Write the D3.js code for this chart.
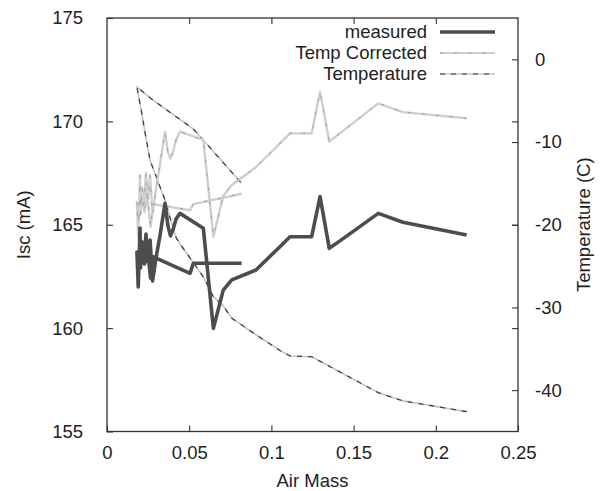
<!DOCTYPE html>
<html>
<head>
<meta charset="utf-8">
<script src="https://cdn.jsdelivr.net/npm/d3@7"></script>
<style>
  html, body { margin: 0; padding: 0; background: #fff; }
  svg { display: block; }
  text { font-family: "Liberation Sans", Arial, sans-serif; fill: #222; }
</style>
</head>
<body>
<svg id="chart" width="602" height="491"></svg>
<script>
// ---- data ----
const airMass = [0.2188, 0.1800, 0.1650, 0.1417, 0.1352, 0.1296, 0.1245, 0.1113, 0.1052, 0.0906,
  0.0759, 0.0707, 0.0647, 0.0586, 0.0444,
  0.0420, 0.0401, 0.0386, 0.0371, 0.0353, 0.0322, 0.0298, 0.0277, 0.0262, 0.0249,
  0.0237, 0.0225, 0.0213, 0.0204, 0.0201, 0.0190, 0.0182,
  0.0195, 0.0210, 0.0228, 0.0243, 0.0265, 0.0282, 0.0505, 0.0525, 0.0819];

const measured = [164.50, 165.12, 165.55, 164.22, 163.86, 166.36, 164.42, 164.42, 163.94, 162.81,
  162.33, 161.84, 159.99, 164.83, 165.55,
  165.28, 164.75, 164.46, 164.94, 166.04, 164.46, 163.39, 162.28, 164.26, 163.20,
  164.55, 163.20, 164.17, 162.91, 164.84, 161.99, 163.68,
  163.00, 163.97, 163.10, 164.07, 162.42, 163.45, 162.65, 163.14, 163.14];

const tempCorrected = [170.15, 170.45, 170.87, 169.42, 169.02, 171.44, 169.42, 169.42, 168.94, 167.78,
  166.92, 166.39, 164.42, 169.10, 169.50,
  169.1, 168.5, 168.2, 168.5, 169.5, 167.9, 166.7, 165.5, 167.4, 166.2,
  167.5, 166.0, 166.8, 165.5, 167.4, 164.4, 166.1,
  165.4, 166.4, 165.6, 166.5, 164.9, 166.0, 165.7, 166.0, 166.5];

const temperature = [-42.6, -41.3, -40.3, -37.8, -37.1, -36.5, -35.96, -35.87, -35.2, -33.3,
  -31.3, -29.8, -28.7, -26.3, -22.3,
  -21.55, -20.3, -19.3, -18.25, -17.0, -15.4, -14.1, -13.0, -12.2, -10.8,
  -9.5, -8.1, -6.7, -5.7, -5.4, -4.2, -3.3,
  -3.54, -3.79, -4.09, -4.33, -4.69, -4.95, -8.14, -8.42, -14.99];

const xTicks = [0, 0.05, 0.1, 0.15, 0.2, 0.25];
const yTicks = [155, 160, 165, 170, 175];
const y2Ticks = [0, -10, -20, -30, -40];
const legendLabels = ["measured", "Temp Corrected", "Temperature"];

// ---- layout ----
const W = 602, H = 491;
const m = { left: 107, right: 84, top: 18, bottom: 59.5 };
const iw = W - m.left - m.right, ih = H - m.top - m.bottom;
const FS = 18.5;

const svg = d3.select("#chart");
const g = svg.append("g").attr("transform", `translate(${m.left},${m.top})`);

const x = d3.scaleLinear().domain([0, 0.25]).range([0, iw]);
const y = d3.scaleLinear().domain([155, 175]).range([ih, 0]);
const y2 = d3.scaleLinear().domain([-45, 5]).range([ih, 0]);

const hyphen = d => String(d);   // plain ASCII minus, as in the reference

const axisColor = "#333";
function styleAxis(sel) {
  sel.select(".domain").remove();
  sel.selectAll(".tick line").attr("stroke", axisColor).attr("stroke-width", 1.1);
  sel.selectAll(".tick text").attr("font-size", FS).attr("fill", "#222")
     .style("font-family", '"Liberation Sans", Arial, sans-serif');
}

// bottom axis
g.append("g").attr("transform", `translate(0,${ih})`)
  .call(d3.axisBottom(x).tickValues(xTicks).tickFormat(hyphen).tickSizeInner(-6).tickSizeOuter(0).tickPadding(14))
  .call(styleAxis);
// top mirror ticks
g.append("g")
  .call(d3.axisTop(x).tickValues(xTicks.slice(1, -1)).tickFormat("").tickSizeInner(-6).tickSizeOuter(0))
  .call(styleAxis);
// left axis
g.append("g")
  .call(d3.axisLeft(y).tickValues(yTicks).tickFormat(hyphen).tickSizeInner(-6).tickSizeOuter(0).tickPadding(24))
  .call(styleAxis);
// right mirror of left ticks
g.append("g").attr("transform", `translate(${iw},0)`)
  .call(d3.axisRight(y).tickValues(yTicks.slice(1, -1)).tickFormat("").tickSizeInner(-6).tickSizeOuter(0))
  .call(styleAxis);
// right y2 axis
g.append("g").attr("transform", `translate(${iw},0)`)
  .call(d3.axisRight(y2).tickValues(y2Ticks).tickFormat(hyphen).tickSizeInner(-6).tickSizeOuter(0).tickPadding(17))
  .call(styleAxis);

// frame
g.append("rect").attr("x", 0).attr("y", 0).attr("width", iw).attr("height", ih)
  .attr("fill", "none").attr("stroke", axisColor).attr("stroke-width", 1.3);

// axis titles
svg.append("text").attr("x", m.left + x(0.125)).attr("y", 487)
  .attr("text-anchor", "middle").attr("font-size", FS).text("Air Mass");
svg.append("text").attr("transform", `translate(30,${m.top + ih / 2}) rotate(-90)`)
  .attr("text-anchor", "middle").attr("font-size", FS).text("Isc (mA)");
svg.append("text").attr("transform", `translate(590,${m.top + ih / 2}) rotate(-90)`)
  .attr("text-anchor", "middle").attr("font-size", FS).text("Temperature (C)");

// ---- lines ----
const idx = d3.range(airMass.length);
const lineL = vals => d3.line().x(i => x(airMass[i])).y(i => y(vals[i]));
const lineR = vals => d3.line().x(i => x(airMass[i])).y(i => y2(vals[i]));

// Temperature (right axis): light base + dark dashes
g.append("path").attr("d", lineR(temperature)(idx))
  .attr("fill", "none").attr("stroke", "#c4c4c4").attr("stroke-width", 1.6).attr("stroke-linejoin", "round");
g.append("path").attr("d", lineR(temperature)(idx))
  .attr("fill", "none").attr("stroke", "#3a3a3a").attr("stroke-width", 1.2)
  .attr("stroke-dasharray", "5,6").attr("stroke-linejoin", "round");

// Temp Corrected: light gray
g.append("path").attr("d", lineL(tempCorrected)(idx))
  .attr("fill", "none").attr("stroke", "#cfcfcf").attr("stroke-width", 2.4).attr("stroke-linejoin", "round");
g.append("path").attr("d", lineL(tempCorrected)(idx))
  .attr("fill", "none").attr("stroke", "#8a8a8a").attr("stroke-width", 1)
  .attr("stroke-dasharray", "3,11").attr("stroke-opacity", 0.7);

// measured: dark thick
g.append("path").attr("d", lineL(measured)(idx))
  .attr("fill", "none").attr("stroke", "#4d4d4d").attr("stroke-width", 3.6).attr("stroke-linejoin", "round");

// ---- legend ----
const lg = svg.append("g");
const rows = [32, 53, 74];
legendLabels.forEach((lab, k) => {
  lg.append("text").attr("x", 427).attr("y", rows[k]).attr("dy", "0.35em")
    .attr("text-anchor", "end").attr("font-size", FS).text(lab);
});
// measured sample
lg.append("line").attr("x1", 440).attr("x2", 495).attr("y1", rows[0]).attr("y2", rows[0])
  .attr("stroke", "#4d4d4d").attr("stroke-width", 3.4);
// temp corrected sample
lg.append("line").attr("x1", 440).attr("x2", 495).attr("y1", rows[1]).attr("y2", rows[1])
  .attr("stroke", "#cfcfcf").attr("stroke-width", 2.2);
lg.append("line").attr("x1", 440).attr("x2", 495).attr("y1", rows[1]).attr("y2", rows[1])
  .attr("stroke", "#8a8a8a").attr("stroke-width", 1).attr("stroke-dasharray", "3,11").attr("stroke-opacity", 0.7);
// temperature sample
lg.append("line").attr("x1", 440).attr("x2", 495).attr("y1", rows[2]).attr("y2", rows[2])
  .attr("stroke", "#c4c4c4").attr("stroke-width", 1.6);
lg.append("line").attr("x1", 440).attr("x2", 495).attr("y1", rows[2]).attr("y2", rows[2])
  .attr("stroke", "#3a3a3a").attr("stroke-width", 1.2).attr("stroke-dasharray", "5,6");
</script>
</body>
</html>
